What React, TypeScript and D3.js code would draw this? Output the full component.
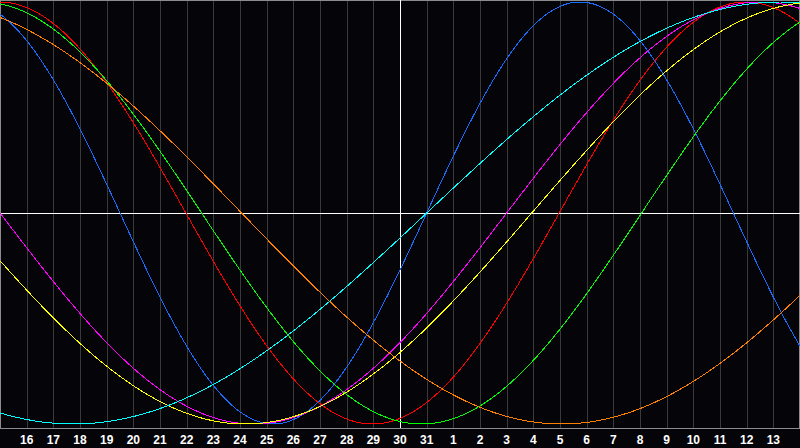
import React from "react";
import * as d3 from "d3";

// Biorhythm cycles
const cycleNames = ["Physical", "Emotional", "Intellectual", "Intuitive", "Aesthetic", "Awareness", "Spiritual"];
const cyclePeriods = [23, 28, 33, 38, 43, 48, 53];
// day offset (from the first visible day, the 15th) at which each cycle rises through zero
const cycleRiseDays = [16.0, 20.97, 24.06, 19.0, 19.94, 33.06, 16.0];
const cycleColors = ["#1a6cff", "#ff0000", "#00ff00", "#ff00ff", "#ffff00", "#ff8000", "#00ffff"];

// Day labels along the bottom (15th of month at left edge, 14th of next month at right edge)
const dayLabels = [16, 17, 18, 19, 20, 21, 22, 23, 24, 25, 26, 27, 28, 29, 30, 31, 1, 2, 3, 4, 5, 6, 7, 8, 9, 10, 11, 12, 13];
const totalDays = 30;
const todayIndex = 15;

const W = 800;
const H = 448;
const plotBottom = 428;

export default function App() {
  const x = d3.scaleLinear().domain([0, totalDays]).range([0, W]);
  const y = d3.scaleLinear().domain([-1, 1]).range([424, 2]);

  const samples = d3.range(0, totalDays + 0.001, 0.04);
  const line = d3
    .line<number>()
    .x((t) => x(t))
    .y((t) => y(0));

  const paths = cyclePeriods.map((p, i) => {
    const gen = d3
      .line<number>()
      .x((t) => x(t))
      .y((t) => y(Math.sin((2 * Math.PI * (t - cycleRiseDays[i])) / p)));
    return gen(samples) || "";
  });
  void line;

  const gridDays = d3.range(1, totalDays);

  return (
    <svg
      width={W}
      height={H}
      style={{ position: "fixed", left: 0, top: 0, display: "block", background: "#050408" }}
    >
      <rect x={0} y={0} width={W} height={H} fill="#050408" />
      {gridDays.map((d) => (
        <line
          key={d}
          x1={Math.round(x(d)) + 0.5}
          x2={Math.round(x(d)) + 0.5}
          y1={0}
          y2={plotBottom}
          stroke="#3a3a3a"
          strokeWidth={1}
          shapeRendering="crispEdges"
        />
      ))}
      {/* frame */}
      <line x1={0} x2={W} y1={0.5} y2={0.5} stroke="#8c8c8c" shapeRendering="crispEdges" />
      <line x1={0.5} x2={0.5} y1={0} y2={plotBottom + 1} stroke="#8c8c8c" shapeRendering="crispEdges" />
      <line x1={W - 0.5} x2={W - 0.5} y1={0} y2={plotBottom + 1} stroke="#8c8c8c" shapeRendering="crispEdges" />
      <line x1={0} x2={W} y1={plotBottom + 0.5} y2={plotBottom + 0.5} stroke="#8c8c8c" shapeRendering="crispEdges" />
      {/* today & zero lines */}
      <line
        x1={Math.round(x(todayIndex)) + 0.5}
        x2={Math.round(x(todayIndex)) + 0.5}
        y1={0}
        y2={plotBottom}
        stroke="#ffffff"
        shapeRendering="crispEdges"
      />
      <line x1={0} x2={W} y1={213.5} y2={213.5} stroke="#ffffff" shapeRendering="crispEdges" />
      {paths.map((d, i) => (
        <path
          key={cycleNames[i]}
          d={d}
          fill="none"
          stroke={cycleColors[i]}
          strokeWidth={1}
          shapeRendering="crispEdges"
        />
      ))}
      {dayLabels.map((lab, i) => (
        <text
          key={i}
          x={x(i + 1)}
          y={443.5}
          fill="#ffffff"
          fontFamily="'Liberation Sans', Arial, sans-serif"
          fontWeight="bold"
          fontSize={12}
          textAnchor="middle"
        >
          {lab}
        </text>
      ))}
    </svg>
  );
}
